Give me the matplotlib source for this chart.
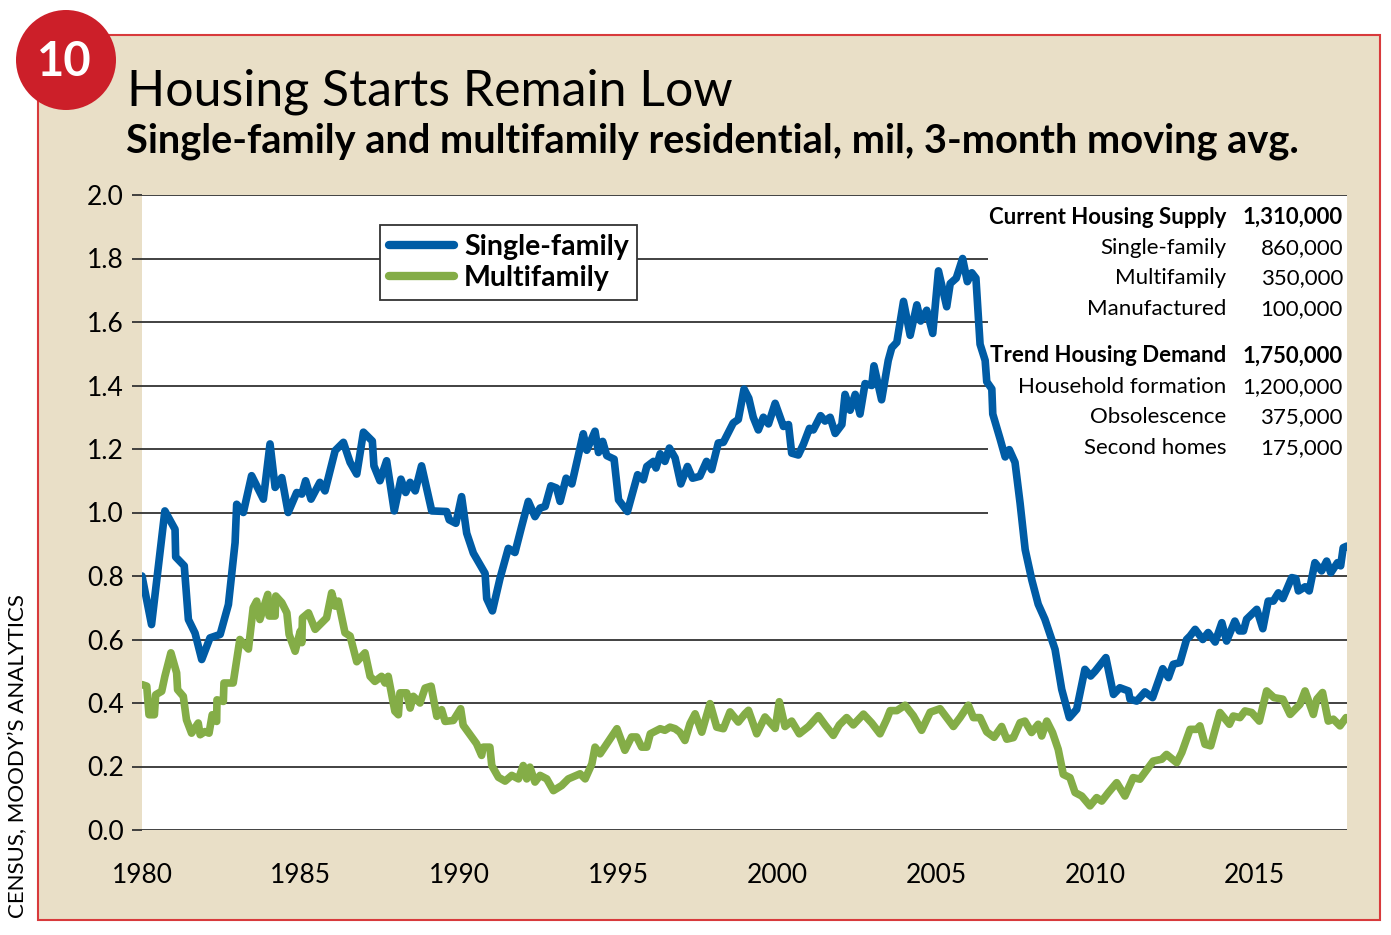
import matplotlib
matplotlib.use("Agg")
import matplotlib.pyplot as plt
from matplotlib.patches import Rectangle, Circle

# values (year, millions of starts)
single_years = [
    1980.00, 1980.30, 1980.72, 1981.04, 1981.06, 1981.33, 1981.46, 1981.67, 1981.88, 1982.14,
    1982.46, 1982.72, 1982.93, 1982.98, 1983.19, 1983.45, 1983.82, 1984.03, 1984.19, 1984.40,
    1984.60, 1984.87, 1985.03, 1985.15, 1985.32, 1985.60, 1985.76, 1986.08, 1986.34, 1986.55,
    1986.76, 1986.97, 1987.25, 1987.30, 1987.49, 1987.70, 1987.94, 1988.15, 1988.30, 1988.44,
    1988.60, 1988.80, 1989.12, 1989.59, 1989.67, 1989.88, 1990.06, 1990.22, 1990.43, 1990.80,
    1990.85, 1991.03, 1991.27, 1991.53, 1991.74, 1991.95, 1992.16, 1992.37, 1992.53, 1992.69,
    1992.87, 1993.05, 1993.16, 1993.35, 1993.53, 1993.89, 1994.00, 1994.26, 1994.37, 1994.50,
    1994.63, 1994.86, 1995.00, 1995.28, 1995.60, 1995.78, 1995.89, 1996.10, 1996.18, 1996.31,
    1996.46, 1996.60, 1996.78, 1996.96, 1997.17, 1997.33, 1997.56, 1997.77, 1997.93, 1998.14,
    1998.30, 1998.61, 1998.77, 1998.95, 1999.10, 1999.24, 1999.40, 1999.56, 1999.72, 1999.93,
    2000.19, 2000.35, 2000.45, 2000.66, 2000.82, 2001.01, 2001.13, 2001.36, 2001.50, 2001.66,
    2001.82, 2002.03, 2002.13, 2002.29, 2002.45, 2002.60, 2002.76, 2002.97, 2003.04, 2003.28,
    2003.49, 2003.60, 2003.76, 2003.97, 2004.18, 2004.39, 2004.51, 2004.70, 2004.89, 2005.07,
    2005.33, 2005.44, 2005.63, 2005.83, 2005.98, 2006.12, 2006.25, 2006.38, 2006.54, 2006.59,
    2006.75, 2006.78, 2007.01, 2007.17, 2007.30, 2007.48, 2007.64, 2007.80, 2008.01, 2008.21,
    2008.42, 2008.74, 2008.95, 2009.19, 2009.42, 2009.68, 2009.86, 2010.00, 2010.34, 2010.58,
    2010.78, 2011.05, 2011.10, 2011.31, 2011.57, 2011.81, 2012.13, 2012.31, 2012.46, 2012.67,
    2012.88, 2012.99, 2013.15, 2013.39, 2013.56, 2013.78, 2013.99, 2014.14, 2014.40, 2014.54,
    2014.67, 2014.77, 2015.09, 2015.28, 2015.45, 2015.61, 2015.77, 2015.91, 2016.19, 2016.32,
    2016.40, 2016.61, 2016.74, 2016.92, 2017.13, 2017.29, 2017.42, 2017.63, 2017.73, 2017.81,
    2017.92,
]
single_vals = [
    0.800, 0.647, 1.005, 0.947, 0.860, 0.832, 0.663, 0.620, 0.537, 0.605,
    0.616, 0.710, 0.905, 1.026, 1.000, 1.116, 1.042, 1.216, 1.079, 1.110,
    1.000, 1.063, 1.058, 1.100, 1.042, 1.095, 1.068, 1.195, 1.221, 1.158,
    1.121, 1.253, 1.225, 1.147, 1.100, 1.163, 1.005, 1.105, 1.063, 1.095,
    1.068, 1.147, 1.005, 1.003, 0.977, 0.966, 1.050, 0.935, 0.872, 0.808,
    0.729, 0.690, 0.793, 0.887, 0.874, 0.956, 1.035, 0.987, 1.014, 1.019,
    1.084, 1.077, 1.035, 1.108, 1.090, 1.248, 1.196, 1.256, 1.189, 1.224,
    1.179, 1.168, 1.040, 1.003, 1.119, 1.103, 1.145, 1.161, 1.140, 1.185,
    1.161, 1.203, 1.172, 1.090, 1.145, 1.108, 1.114, 1.161, 1.135, 1.219,
    1.221, 1.282, 1.293, 1.389, 1.360, 1.300, 1.260, 1.300, 1.279, 1.344,
    1.271, 1.277, 1.187, 1.181, 1.215, 1.265, 1.260, 1.305, 1.288, 1.300,
    1.249, 1.277, 1.372, 1.322, 1.372, 1.310, 1.406, 1.400, 1.462, 1.355,
    1.479, 1.519, 1.536, 1.665, 1.558, 1.654, 1.603, 1.637, 1.564, 1.761,
    1.648, 1.721, 1.738, 1.800, 1.727, 1.755, 1.738, 1.530, 1.479, 1.412,
    1.389, 1.310, 1.232, 1.175, 1.198, 1.158, 1.029, 0.883, 0.787, 0.711,
    0.664, 0.569, 0.443, 0.354, 0.380, 0.506, 0.485, 0.500, 0.543, 0.427,
    0.448, 0.438, 0.412, 0.406, 0.435, 0.417, 0.508, 0.480, 0.522, 0.527,
    0.600, 0.611, 0.632, 0.600, 0.622, 0.592, 0.653, 0.595, 0.658, 0.627,
    0.627, 0.664, 0.695, 0.634, 0.721, 0.721, 0.747, 0.729, 0.795, 0.792,
    0.753, 0.766, 0.753, 0.842, 0.816, 0.847, 0.810, 0.842, 0.832, 0.889,
    0.894,
]

multi_years = [
    1980.00, 1980.15, 1980.22, 1980.39, 1980.43, 1980.62, 1980.72, 1980.91, 1981.09, 1981.12,
    1981.30, 1981.40, 1981.56, 1981.77, 1981.83, 1981.98, 1982.11, 1982.21, 1982.35, 1982.36,
    1982.56, 1982.58, 1982.87, 1983.08, 1983.35, 1983.50, 1983.61, 1983.71, 1983.96, 1984.00,
    1984.19, 1984.21, 1984.40, 1984.56, 1984.63, 1984.82, 1984.98, 1985.03, 1985.05, 1985.24,
    1985.45, 1985.66, 1985.81, 1985.97, 1986.08, 1986.18, 1986.39, 1986.55, 1986.76, 1987.02,
    1987.18, 1987.33, 1987.54, 1987.65, 1987.75, 1987.96, 1988.07, 1988.12, 1988.33, 1988.44,
    1988.54, 1988.75, 1988.91, 1989.10, 1989.28, 1989.43, 1989.54, 1989.80, 1990.03, 1990.11,
    1990.53, 1990.69, 1990.74, 1990.95, 1991.01, 1991.22, 1991.43, 1991.64, 1991.85, 1992.00,
    1992.11, 1992.21, 1992.37, 1992.53, 1992.74, 1992.95, 1993.21, 1993.42, 1993.79, 1993.95,
    1994.16, 1994.26, 1994.42, 1994.95, 1995.20, 1995.41, 1995.57, 1995.73, 1995.89, 1996.00,
    1996.31, 1996.46, 1996.62, 1996.78, 1996.93, 1997.09, 1997.25, 1997.41, 1997.62, 1997.88,
    1998.09, 1998.30, 1998.51, 1998.77, 1998.98, 1999.09, 1999.35, 1999.61, 1999.93, 2000.06,
    2000.24, 2000.45, 2000.69, 2000.98, 2001.29, 2001.50, 2001.76, 2001.95, 2002.18, 2002.39,
    2002.71, 2002.97, 2003.23, 2003.44, 2003.55, 2003.76, 2004.02, 2004.28, 2004.54, 2004.81,
    2005.12, 2005.33, 2005.54, 2005.75, 2006.01, 2006.17, 2006.38, 2006.59, 2006.82, 2007.06,
    2007.22, 2007.43, 2007.64, 2007.79, 2008.00, 2008.21, 2008.32, 2008.48, 2008.66, 2008.84,
    2009.00, 2009.21, 2009.37, 2009.58, 2009.84, 2010.05, 2010.21, 2010.42, 2010.68, 2010.94,
    2011.20, 2011.41, 2011.83, 2012.10, 2012.25, 2012.57, 2012.73, 2012.99, 2013.20, 2013.30,
    2013.46, 2013.64, 2013.93, 2014.23, 2014.35, 2014.56, 2014.72, 2014.93, 2015.17, 2015.40,
    2015.63, 2015.91, 2016.14, 2016.45, 2016.61, 2016.87, 2016.98, 2017.16, 2017.34, 2017.50,
    2017.71, 2017.90,
]
multi_vals = [
    0.458, 0.453, 0.363, 0.363, 0.426, 0.437, 0.484, 0.558, 0.495, 0.442,
    0.421, 0.347, 0.305, 0.337, 0.300, 0.310, 0.305, 0.363, 0.342, 0.410,
    0.405, 0.463, 0.463, 0.600, 0.570, 0.700, 0.721, 0.663, 0.742, 0.674,
    0.674, 0.737, 0.716, 0.684, 0.616, 0.563, 0.626, 0.590, 0.668, 0.684,
    0.632, 0.653, 0.668, 0.747, 0.705, 0.721, 0.621, 0.611, 0.530, 0.558,
    0.484, 0.468, 0.484, 0.463, 0.484, 0.374, 0.363, 0.432, 0.432, 0.384,
    0.421, 0.400, 0.447, 0.453, 0.358, 0.379, 0.342, 0.345, 0.382, 0.330,
    0.272, 0.235, 0.261, 0.261, 0.203, 0.166, 0.154, 0.172, 0.161, 0.203,
    0.161, 0.198, 0.151, 0.172, 0.161, 0.124, 0.140, 0.161, 0.177, 0.161,
    0.208, 0.261, 0.240, 0.319, 0.251, 0.293, 0.293, 0.261, 0.261, 0.303,
    0.319, 0.314, 0.324, 0.319, 0.308, 0.282, 0.335, 0.366, 0.308, 0.398,
    0.324, 0.319, 0.372, 0.340, 0.366, 0.377, 0.303, 0.356, 0.320, 0.404,
    0.326, 0.343, 0.303, 0.326, 0.360, 0.331, 0.298, 0.331, 0.354, 0.331,
    0.365, 0.337, 0.303, 0.348, 0.376, 0.376, 0.393, 0.360, 0.314, 0.371,
    0.382, 0.354, 0.326, 0.354, 0.393, 0.354, 0.354, 0.309, 0.292, 0.326,
    0.286, 0.291, 0.338, 0.343, 0.307, 0.333, 0.296, 0.343, 0.307, 0.254,
    0.175, 0.165, 0.118, 0.107, 0.076, 0.102, 0.091, 0.118, 0.149, 0.107,
    0.165, 0.160, 0.217, 0.223, 0.238, 0.212, 0.244, 0.317, 0.317, 0.328,
    0.270, 0.265, 0.370, 0.333, 0.359, 0.354, 0.375, 0.370, 0.343, 0.438,
    0.417, 0.412, 0.364, 0.396, 0.438, 0.364, 0.412, 0.433, 0.343, 0.349,
    0.328, 0.354,
]

y_ticks = [0.0, 0.2, 0.4, 0.6, 0.8, 1.0, 1.2, 1.4, 1.6, 1.8, 2.0]
x_ticks = [1980, 1985, 1990, 1995, 2000, 2005, 2010, 2015]

supply_labels = ["Current Housing Supply", "Single-family", "Multifamily", "Manufactured"]
supply_values = ["1,310,000", "860,000", "350,000", "100,000"]
demand_labels = ["Trend Housing Demand", "Household formation", "Obsolescence", "Second homes"]
demand_values = ["1,750,000", "1,200,000", "375,000", "175,000"]

BLUE = "#005ca5"
GREEN = "#84ad47"
BEIGE = "#e9dfc7"
RED = "#cc1f29"
FONT = "Lato"

W, H = 1391, 935
fig = plt.figure(figsize=(W / 100, H / 100), dpi=100, facecolor="white")

# background layer in pixel coordinates
bg = fig.add_axes([0, 0, 1, 1])
bg.set_zorder(0)
bg.set_xlim(0, W)
bg.set_ylim(H, 0)
bg.axis("off")
bg.add_patch(Rectangle((38, 35), 1342, 885, facecolor=BEIGE, edgecolor="#d83a3c", lw=1.5))
bg.add_patch(Circle((66, 60), 50, facecolor=RED, edgecolor="none"))
bg.text(64, 62, "10", color="white", fontsize=34, fontweight="bold", family=FONT,
        ha="center", va="center")
bg.text(127, 92, "Housing Starts Remain Low", fontsize=36, fontweight="normal", family=FONT,
        ha="left", va="center")
bg.text(126, 141, "Single-family and multifamily residential, mil, 3-month moving avg.",
        fontsize=28.6, fontweight="bold", family=FONT, ha="left", va="center")
bg.text(18, 918, "CENSUS, MOODY\u2019S ANALYTICS", fontsize=16, family=FONT, rotation=90,
        ha="center", va="bottom")

# main chart
ax = fig.add_axes([142 / W, (H - 830) / H, (1347 - 142) / W, (830 - 195) / H])
ax.set_zorder(2)
ax.set_facecolor("white")
ax.set_xlim(1980, 2017.93)
ax.set_ylim(0, 2.0)
for s in ax.spines.values():
    s.set_visible(False)

ax.set_yticks(y_ticks)
ax.set_yticklabels(["%.1f" % v for v in y_ticks], family=FONT, fontsize=19)
ax.set_xticks(x_ticks)
ax.set_xticklabels([str(v) for v in x_ticks], family=FONT, fontsize=19)
ax.tick_params(axis="y", length=7, width=1.3, color="#333", pad=6)
ax.tick_params(axis="x", length=0, pad=24)
ax.grid(axis="y", color="#333", lw=1.3)
ax.set_axisbelow(True)

# white panel behind the table hides the gridlines there
ax.add_patch(Rectangle((2006.63, 0.9), 2017.93 - 2006.63, 1.095, facecolor="white",
                       edgecolor="none", zorder=1))

ax.plot(single_years, single_vals, color=BLUE, lw=5.5, solid_joinstyle="round",
        solid_capstyle="round", label="Single-family", zorder=3)
ax.plot(multi_years, multi_vals, color=GREEN, lw=5.5, solid_joinstyle="round",
        solid_capstyle="round", label="Multifamily", zorder=3)

leg = ax.legend(loc="upper left", bbox_to_anchor=((380 - 142) / 1205, (830 - 225) / 635),
                prop={"family": FONT, "weight": "bold", "size": 20.5}, frameon=True,
                fancybox=False, handlelength=2.3, handletextpad=0.35, borderpad=0.3,
                labelspacing=0.2, borderaxespad=0, framealpha=1)
leg.get_frame().set_edgecolor("#333")
leg.get_frame().set_linewidth(1.3)
for h in leg.get_lines():
    h.set_solid_capstyle("round")
    h.set_linewidth(6)

# table in the upper right, drawn in pixel coordinates on top of the chart
rows_y = [217, 248, 278, 309, 356, 387, 417, 448]
labels = supply_labels + demand_labels
values = supply_values + demand_values
for i, (lab, val) in enumerate(zip(labels, values)):
    wt = "bold" if i in (0, 4) else "normal"
    ax.text(1226, rows_y[i], lab, fontsize=16, fontweight=wt, family=FONT,
            ha="right", va="center", zorder=5, transform=bg.transData)
    ax.text(1343, rows_y[i], val, fontsize=16, fontweight=wt, family=FONT,
            ha="right", va="center", zorder=5, transform=bg.transData)

fig.savefig("out.png", dpi=100, facecolor="white")
